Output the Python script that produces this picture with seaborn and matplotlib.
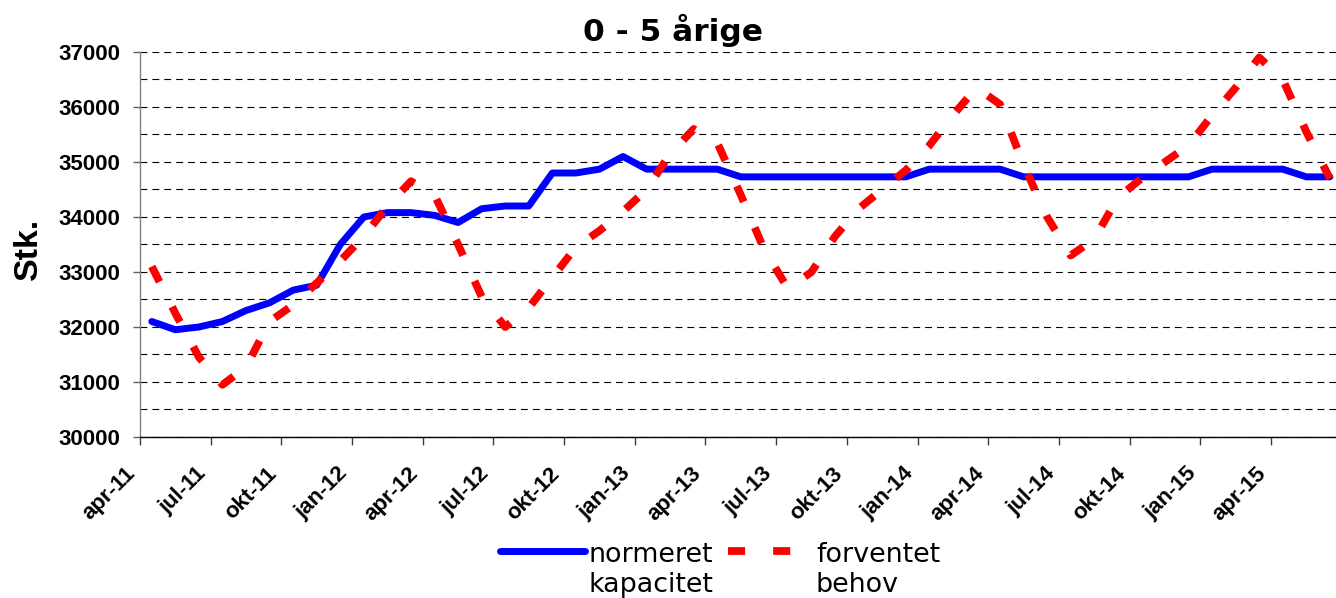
import numpy as np
import pandas as pd
import seaborn as sns
import matplotlib.pyplot as plt
from matplotlib.transforms import ScaledTranslation

# monthly values apr-11 .. jun-15
kapacitet = [32100, 31950, 32000, 32100, 32300, 32440, 32670, 32760, 33500, 34000,
             34080, 34080, 34030, 33900, 34150, 34200, 34200, 34800, 34800, 34870,
             35100, 34870, 34870, 34870, 34870, 34730, 34730, 34730, 34730, 34730,
             34730, 34730, 34730, 34870, 34870, 34870, 34870, 34730, 34730, 34730,
             34730, 34730, 34730, 34730, 34730, 34870, 34870, 34870, 34870, 34730,
             34730]
behov = [33100, 32250, 31450, 30950, 31270, 32100, 32400, 32800, 33200, 33650,
         34200, 34650, 34400, 33500, 32550, 32000, 32350, 32900, 33450, 33750,
         34100, 34500, 35150, 35600, 35350, 34400, 33400, 32700, 33000, 33650,
         34150, 34500, 34850, 35300, 35850, 36350, 36050, 34950, 34000, 33300,
         33600, 34350, 34700, 35000, 35300, 35850, 36350, 36900, 36500, 35550,
         34700]
tick_labels = ['apr-11', 'jul-11', 'okt-11', 'jan-12', 'apr-12', 'jul-12', 'okt-12',
               'jan-13', 'apr-13', 'jul-13', 'okt-13', 'jan-14', 'apr-14', 'jul-14',
               'okt-14', 'jan-15', 'apr-15']
series_names = ['normeret\nkapacitet', 'forventet\nbehov']

W, H = 1336, 598

df = pd.DataFrame({'maaned': np.arange(len(kapacitet)),
                   series_names[0]: kapacitet,
                   series_names[1]: behov})
df_long = df.melt(id_vars='maaned', var_name='serie', value_name='stk')

sns.set_style("white")
plt.rcParams['font.family'] = ['Liberation Sans', 'DejaVu Sans']
plt.rcParams['text.color'] = 'black'
plt.rcParams['xtick.color'] = 'black'
plt.rcParams['ytick.color'] = 'black'

fig = plt.figure(figsize=(W / 100, H / 100), dpi=100)
ax = fig.add_axes([140 / W, 1 - 437 / H, 1196 / W, 385 / H])

sns.lineplot(data=df_long, x='maaned', y='stk', hue='serie', style='serie',
             palette={series_names[0]: '#0000ff', series_names[1]: '#ff0000'},
             dashes={series_names[0]: '', series_names[1]: (2.2, 3.6)},
             linewidth=5.0, ax=ax)

blue_line, red_line = ax.lines[0], ax.lines[1]
blue_line.set_solid_capstyle('round')
blue_line.set_solid_joinstyle('round')
red_line.set_linewidth(5.6)

# axes ranges and ticks
ax.set_xlim(-0.5, 50.26)
ax.set_ylim(30000, 37000)
ax.set_yticks(np.arange(30000, 37001, 1000))
ax.set_yticks(np.arange(30500, 37000, 1000), minor=True)
ax.set_xticks(np.arange(len(tick_labels)) * 3 - 0.5)
ax.set_xticklabels(tick_labels, rotation=45, ha='right')
for lbl in ax.get_xticklabels():
    lbl.set_transform(lbl.get_transform() + ScaledTranslation(0.05, 0, fig.dpi_scale_trans))

for lbl in ax.get_xticklabels() + ax.get_yticklabels():
    lbl.set_fontweight('bold')
    lbl.set_fontsize(16)
    lbl.set_color('black')

ax.tick_params(axis='x', which='major', direction='out', length=5.8, width=1,
               color='#404040', pad=13, bottom=True)
ax.tick_params(axis='y', which='major', direction='out', length=5, width=1,
               color='#606060', pad=9, left=True)
ax.tick_params(axis='y', which='minor', length=0)

ax.grid(False)
ax.grid(True, axis='y', which='both', color='black', linewidth=0.8,
        linestyle=(0, (6.2, 4.5)))
ax.set_axisbelow(True)

for side in ['top', 'right']:
    ax.spines[side].set_visible(False)
ax.spines['left'].set_color('#808080')
ax.spines['left'].set_linewidth(1)
ax.spines['bottom'].set_color('black')
ax.spines['bottom'].set_linewidth(1)

ax.set_xlabel('')
ax.set_ylabel('')

# legend below the plot
leg = ax.get_legend()
labels = [t.get_text() for t in leg.get_texts()]
leg.remove()
fig_leg = fig.legend(handles=[blue_line, red_line], labels=labels, loc='upper left',
                     bbox_to_anchor=(500 / W, 1 - 542 / H), ncol=2, frameon=False,
                     prop={'family': 'DejaVu Sans', 'size': 19.4},
                     handlelength=3.15, handletextpad=0.12, columnspacing=0.55,
                     borderpad=0, borderaxespad=0)
# put the handle next to the first text line, not the last
for column in fig_leg._legend_handle_box.get_children():
    for item in column.get_children():
        item.align = 'top'

fig.text(673 / W, 1 - 41 / H, '0 - 5 årige', ha='center', va='baseline',
         fontsize=22.5, fontweight='bold', family='DejaVu Sans')
fig.text(28 / W, 1 - 249 / H, 'Stk.', rotation=90, ha='center', va='center',
         fontsize=24.5, fontweight='bold', family='Liberation Sans')

fig.savefig('out.png', dpi=100)
